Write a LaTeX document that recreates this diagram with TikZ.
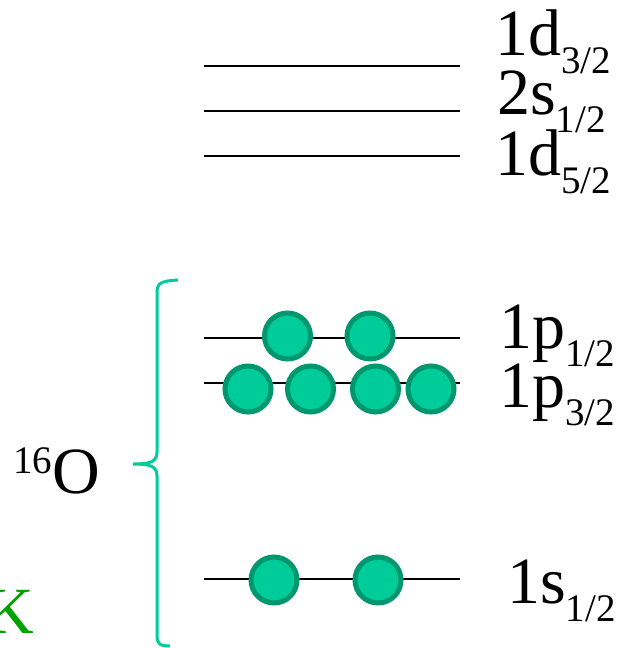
\documentclass[tikz,border=0pt]{standalone}
\usepackage{fontspec}
\setmainfont{Liberation Serif}
\usetikzlibrary{positioning}
\definecolor{nucfill}{RGB}{0,204,153}
\definecolor{nucedge}{RGB}{0,150,110}
\definecolor{bracecol}{RGB}{0,204,153}
\definecolor{kgreen}{RGB}{0,160,0}
\newcommand{\shell}[2]{#1\raisebox{-18pt}{\fontsize{39}{40}\selectfont #2}}

\begin{document}
\begin{tikzpicture}[x=1pt,y=-1pt,
  level/.style={line width=2pt},
  nucleon/.style={circle,draw=nucedge,fill=nucfill,line width=5pt,minimum size=46pt,inner sep=0pt},
  lab/.style={anchor=base west,inner sep=0pt,font=\fontsize{66}{72}\selectfont}]
\useasboundingbox (0,0) rectangle (617,648);
\clip (0,0) rectangle (617,648);

% Levels
\foreach \name/\y in {d32/66,s12b/111,d52/156,p12/338,p32/383,s12/579}{
  \coordinate (\name-l) at (204,\y);
  \coordinate (\name-r) at (460,\y);
  \draw[level] (\name-l) -- (\name-r);
}

% Nucleons
\foreach \x [count=\i] in {287.5,370} \node[nucleon] (p12-\i) at (\x,336) {};
\foreach \x [count=\i] in {248,310.5,375.5,431} \node[nucleon] (p32-\i) at (\x,389) {};
\foreach \x [count=\i] in {274,378} \node[nucleon] (s12-\i) at (\x,580) {};

% Labels
\node[lab] (lab-d32) at (495,55) {\shell{1d}{3/2}};
\node[lab] (lab-s12b) at (497,114) {\shell{2s}{1/2}};
\node[lab] (lab-d52) at (495,175) {\shell{1d}{5/2}};
\node[lab] (lab-p12) at (499,348) {\shell{1p}{1/2}};
\node[lab] (lab-p32) at (499,407) {\shell{1p}{3/2}};
\node[lab] (lab-s12) at (507,603) {\shell{1s}{1/2}};

% Nucleus
\node[lab] (oxygen) at (13,493) {\raisebox{20pt}{\fontsize{39}{40}\selectfont 16}O};
\node[lab, text=kgreen] (kalium) at (-14,633) {K};

% Brace
\coordinate (br-top) at (178,280);
\coordinate (br-tip) at (133,464);
\coordinate (br-bot) at (170,646);
\draw[bracecol, line width=3pt]
  (br-top) .. controls (163,281) and (157,282) .. (157,292)
  -- (157,452) .. controls (157,462) and (150,464) .. (br-tip)
  .. controls (150,464) and (157,466) .. (157,476)
  -- (157,636) .. controls (157,644) and (160,646) .. (br-bot);
\end{tikzpicture}
\end{document}
